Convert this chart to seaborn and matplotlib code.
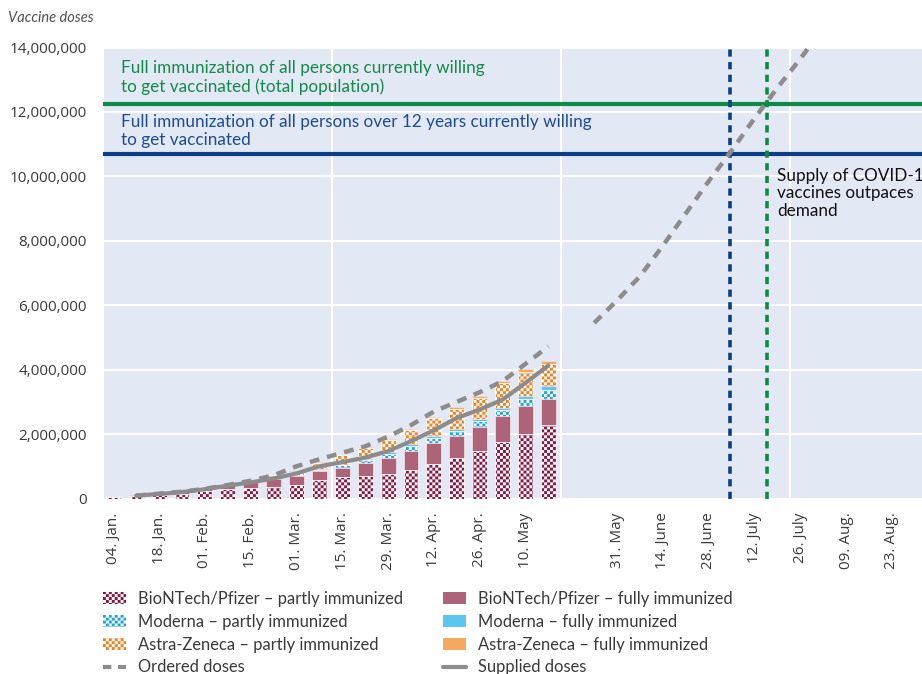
import numpy as np
import pandas as pd
import matplotlib
matplotlib.use("Agg")
import matplotlib.pyplot as plt
import matplotlib.hatch as mhatch
from matplotlib.path import Path
import seaborn as sns
from matplotlib.patches import Patch
from matplotlib.lines import Line2D
from matplotlib.ticker import FuncFormatter

# ---------------- data (values in million doses) ----------------
week_pos = list(range(20))  # weekly bars, 04 Jan ... 17 May
bio_partly = [0.04, 0.09, 0.11, 0.13, 0.23, 0.28, 0.33, 0.35, 0.43, 0.57,
              0.67, 0.71, 0.75, 0.88, 1.06, 1.26, 1.47, 1.75, 1.99, 2.27]
bio_fully = [0.00, 0.03, 0.08, 0.11, 0.10, 0.14, 0.19, 0.26, 0.26, 0.28,
             0.28, 0.39, 0.50, 0.59, 0.67, 0.69, 0.76, 0.81, 0.88, 0.83]
mod_partly = [0.00, 0.00, 0.01, 0.02, 0.02, 0.02, 0.02, 0.02, 0.04, 0.05,
              0.08, 0.09, 0.13, 0.16, 0.16, 0.16, 0.17, 0.19, 0.22, 0.26]
mod_fully = [0.00, 0.00, 0.00, 0.00, 0.00, 0.00, 0.00, 0.01, 0.01, 0.02,
             0.02, 0.03, 0.05, 0.05, 0.05, 0.06, 0.07, 0.07, 0.10, 0.12]
az_partly = [0.00, 0.00, 0.00, 0.00, 0.01, 0.02, 0.04, 0.08, 0.09, 0.19,
             0.29, 0.34, 0.38, 0.45, 0.56, 0.62, 0.65, 0.75, 0.74, 0.70]
az_fully = [0.00, 0.00, 0.00, 0.00, 0.00, 0.00, 0.00, 0.01, 0.01, 0.02,
            0.02, 0.03, 0.03, 0.04, 0.04, 0.04, 0.05, 0.07, 0.10, 0.10]

supplied_pos = list(range(1, 20))
supplied = [0.09, 0.14, 0.20, 0.29, 0.40, 0.50, 0.62, 0.78, 1.00, 1.13,
            1.27, 1.47, 1.78, 2.12, 2.50, 2.76, 3.07, 3.59, 4.13]

ordered_pos_a = list(range(1, 20))
ordered_a = [0.09, 0.15, 0.21, 0.30, 0.42, 0.55, 0.72, 1.00, 1.22, 1.42,
             1.62, 1.92, 2.28, 2.70, 3.00, 3.30, 3.64, 4.18, 4.72]
ordered_pos_b = list(range(21, 32))
ordered_b = [5.45, 6.15, 6.90, 7.85, 8.85, 9.85, 10.80, 11.80, 12.75, 13.65, 14.60]

target_total = 12.25      # full immunization, total population
target_over12 = 10.70     # full immunization, persons over 12
cross_over12_pos = 26.95  # dashed marker: supply meets over-12 demand
cross_total_pos = 28.55   # dashed marker: supply meets total demand

tick_pos = [0, 2, 4, 6, 8, 10, 12, 14, 16, 18, 22, 24, 26, 28, 30, 32, 34]
tick_labels = ["04. Jan.", "18. Jan.", "01. Feb.", "15. Feb.", "01. Mar.",
               "15. Mar.", "29. Mar.", "12. Apr.", "26. Apr.", "10. May",
               "31. May", "14. June", "28. June", "12. July", "26. July",
               "09. Aug.", "23. Aug."]
y_ticks = [0, 2, 4, 6, 8, 10, 12, 14]


# ---------------- checkerboard hatch ('*') ----------------
class CheckerHatch(mhatch.HatchPatternBase):
    N = 34

    def __init__(self, hatch, density):
        if hatch.count("*") > 0:
            ii, jj = np.meshgrid(np.arange(self.N), np.arange(self.N))
            mask = (ii + jj) % 2 == 0
            self.cells = np.column_stack([ii[mask], jj[mask]]).astype(float)
        else:
            self.cells = np.zeros((0, 2))
        self.num_vertices = len(self.cells) * 5

    def set_vertices_and_codes(self, vertices, codes):
        s = 1.0 / self.N
        sq = np.array([[0, 0], [1, 0], [1, 1], [0, 1], [0, 0]], float) * s
        v = (self.cells[:, None, :] * s + sq[None, :, :]).reshape(-1, 2)
        vertices[:] = v
        c = np.array([Path.MOVETO, Path.LINETO, Path.LINETO, Path.LINETO,
                      Path.CLOSEPOLY], dtype=Path.code_type)
        codes[:] = np.tile(c, len(self.cells))


mhatch._hatch_types = [t for t in mhatch._hatch_types if t is not mhatch.Stars] + [CheckerHatch]

# ---------------- style ----------------
BG = "#E2E8F4"
GRAY = "#8C8C8C"
GREEN = "#0E8A47"
BLUE = "#0B3E82"
C_BIO_P, C_BIO_F = "#8A1540", "#AD6478"
C_MOD_P, C_MOD_F = "#1BA3E2", "#5CC5F0"
C_AZ_P, C_AZ_F = "#F08020", "#F6A861"
TXT = "#3A3A3A"

sns.set_theme(style="darkgrid", rc={"axes.facecolor": BG, "grid.color": "white"})
plt.rcParams["font.family"] = ["Lato", "DejaVu Sans"]
plt.rcParams["hatch.linewidth"] = 0.0

fig = plt.figure(figsize=(9.22, 6.74), dpi=100)
ax = fig.add_axes([103 / 922, 1 - 498.5 / 674, 819 / 922, 451 / 674])
ax.set_facecolor(BG)

M = 1e6
layers = [
    (bio_partly, C_BIO_P, "*"),
    (bio_fully, C_BIO_F, None),
    (mod_partly, C_MOD_P, "*"),
    (mod_fully, C_MOD_F, None),
    (az_partly, C_AZ_P, "*"),
    (az_fully, C_AZ_F, None),
]
cums = np.cumsum([np.array(v) for v, _, _ in layers], axis=0)
for k in range(len(layers) - 1, -1, -1):
    _, col, hatch = layers[k]
    kw = dict(hatch=hatch, edgecolor="white") if hatch else dict(edgecolor="#F3D9DF")
    sns.barplot(x=week_pos, y=cums[k] * M, native_scale=True, color=col,
                saturation=1, width=0.65, errorbar=None, linewidth=0.6,
                ax=ax, zorder=2, **kw)

# lines
ord_df = pd.DataFrame({
    "pos": ordered_pos_a + ordered_pos_b,
    "doses": np.array(ordered_a + ordered_b) * M,
    "seg": ["a"] * len(ordered_a) + ["b"] * len(ordered_b),
})
sns.lineplot(data=ord_df, x="pos", y="doses", units="seg", estimator=None,
             color=GRAY, lw=3.2, linestyle=(0, (2.2, 1.8)), ax=ax, zorder=4)
sns.lineplot(x=supplied_pos, y=np.array(supplied) * M, color=GRAY, lw=3.0,
             ax=ax, zorder=5)

ax.axhline(target_total * M, color=GREEN, lw=3.0, zorder=3)
ax.axhline(target_over12 * M, color=BLUE, lw=3.0, zorder=3)
ax.axvline(cross_over12_pos, color=BLUE, lw=2.6, linestyle=(0, (2.0, 1.5)), zorder=3)
ax.axvline(cross_total_pos, color=GREEN, lw=2.6, linestyle=(0, (2.0, 1.5)), zorder=3)

# grid
ax.grid(False)
ax.yaxis.grid(True, color="white", lw=1.5)
for gx in [-0.45, 9.55, 19.55, 29.55]:
    ax.axvline(gx, color="white", lw=1.5, zorder=0.6)

ax.set_xlim(-0.45, -0.45 + 819 / 22.9)
ax.set_ylim(0, 14 * M)
ax.set_xticks(tick_pos)
ax.set_xticklabels(tick_labels, rotation=90, family=["Open Sans", "DejaVu Sans"])
ax.set_yticks([v * M for v in y_ticks])
ax.yaxis.set_major_formatter(FuncFormatter(lambda v, p: f"{v:,.0f}"))
for lab in ax.get_yticklabels():
    lab.set_family(["Open Sans", "DejaVu Sans"])
ax.tick_params(axis="both", length=0, labelsize=11, colors=TXT)
ax.tick_params(axis="y", pad=11.5)
ax.tick_params(axis="x", pad=10)
ax.set_xlabel("")
ax.set_ylabel("")
for s in ax.spines.values():
    s.set_visible(False)

# texts
fig.text(8 / 922, 1 - 18 / 674, "Vaccine doses", style="italic", fontsize=10.5,
         color="#505050", va="center", ha="left")
ax.text(0.35, (target_total + 0.28) * M,
        "Full immunization of all persons currently willing\nto get vaccinated (total population)",
        color="#138A4A", fontsize=12.3, va="bottom", ha="left", linespacing=1.2)
ax.text(0.35, (target_over12 + 0.17) * M,
        "Full immunization of all persons over 12 years currently willing\nto get vaccinated",
        color="#1B4D94", fontsize=12.3, va="bottom", ha="left", linespacing=1.2)
ax.text(29.0, 10.27 * M, "Supply of COVID-19\nvaccines outpaces\ndemand",
        color="#111111", fontsize=12.3, va="top", ha="left", linespacing=1.12,
        clip_on=False)

# legend
handles = [
    Patch(facecolor=C_BIO_P, edgecolor="white", hatch="*", lw=0),
    Patch(facecolor=C_MOD_P, edgecolor="white", hatch="*", lw=0),
    Patch(facecolor=C_AZ_P, edgecolor="white", hatch="*", lw=0),
    Line2D([0], [0], color=GRAY, lw=3, linestyle=(0, (2.0, 1.6))),
    Patch(facecolor=C_BIO_F, edgecolor=C_BIO_F, lw=0),
    Patch(facecolor=C_MOD_F, edgecolor=C_MOD_F, lw=0),
    Patch(facecolor=C_AZ_F, edgecolor=C_AZ_F, lw=0),
    Line2D([0], [0], color=GRAY, lw=3),
]
labels = [
    "BioNTech/Pfizer – partly immunized",
    "Moderna – partly immunized",
    "Astra-Zeneca – partly immunized",
    "Ordered doses",
    "BioNTech/Pfizer – fully immunized",
    "Moderna – fully immunized",
    "Astra-Zeneca – fully immunized",
    "Supplied doses",
]
leg = fig.legend(handles, labels, ncol=2, loc="upper left",
                 bbox_to_anchor=(103 / 922, 1 - 591 / 674), frameon=False,
                 fontsize=11.9, borderpad=0, borderaxespad=0,
                 handlelength=1.4, handletextpad=0.72, labelspacing=0.41,
                 columnspacing=2.4)
for t in leg.get_texts():
    t.set_color(TXT)

fig.savefig("out.png", dpi=100)
